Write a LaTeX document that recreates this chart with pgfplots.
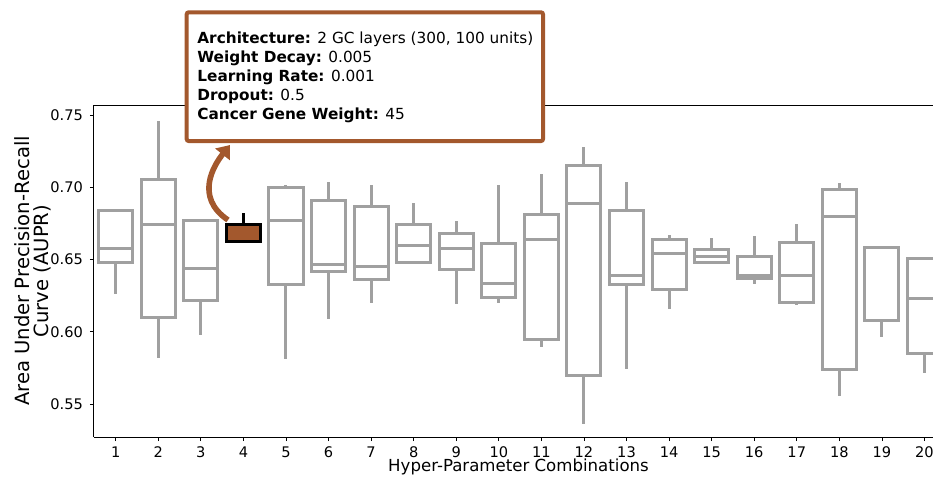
\documentclass[border=0pt]{standalone}
\usepackage{fontspec}
\setmainfont{DejaVu Sans}
\usepackage{pgfplots}
\pgfplotsset{compat=1.18}
\usepgfplotslibrary{statistics}
\usetikzlibrary{arrows.meta}

\definecolor{boxgray}{RGB}{160,160,160}
\definecolor{rust}{RGB}{163,88,45}

\pgfplotsset{
  gbox/.style={draw=boxgray, line width=1.5pt, solid, mark=none},
}
% position, lower whisker, lower quartile, median, upper quartile, upper whisker
\newcommand{\bx}[7][gbox]{%
  \addplot[#1, boxplot prepared={draw position=#2, lower whisker=#3,
    lower quartile=#4, median=#5, upper quartile=#6, upper whisker=#7}]
    coordinates {};}

\begin{document}
\begin{tikzpicture}
\useasboundingbox (-47pt,-21pt) rectangle (419.5pt,218.5pt);
\begin{axis}[
    at={(0,0)}, anchor=south west,
    scale only axis,
    width=419.5pt, height=166pt,
    xmin=0.49, xmax=20.2,
    ymin=0.5273, ymax=0.7569,
    axis x line=box, axis y line=left,
    axis line style={-, black, line width=0.5pt},
    xtick={1,...,20},
    ytick={0.55,0.6,0.65,0.7,0.75},
    xtick pos=left, xticklabel pos=left,
    tick align=outside,
    major tick length=2pt,
    tick style={black, line width=0.4pt},
    /pgf/number format/assume math mode=true,
    ticklabel style={font=\fontsize{7.3}{8}\selectfont},
    xticklabel style={yshift=0.6pt},
    yticklabel style={/pgf/number format/.cd, fixed, fixed zerofill, precision=2},
    xlabel={Hyper-Parameter Combinations},
    xlabel style={at={(axis description cs:0.506,-0.1054)}, anchor=base,
      font=\fontsize{8.3}{9}\selectfont},
    ylabel={Area Under Precision-Recall\\Curve (AUPR)},
    ylabel style={at={(axis description cs:-0.073,0.5)}, anchor=center,
      align=center, font=\fontsize{9.8}{9.8}\selectfont},
    boxplot/draw direction=y,
    boxplot/box extend=0.8,
    boxplot/whisker extend=0,
]
\bx{1}{0.626}{0.648}{0.658}{0.684}{0.684}
\bx{2}{0.582}{0.610}{0.674}{0.7055}{0.746}
\bx{3}{0.598}{0.622}{0.644}{0.677}{0.677}
\bx[draw=black, fill=rust, line width=1.5pt, solid, mark=none]{4}{0.6624}{0.6624}{0.674}{0.674}{0.682}
\bx{5}{0.581}{0.633}{0.677}{0.700}{0.7016}
\bx{6}{0.609}{0.6416}{0.6463}{0.691}{0.704}
\bx{7}{0.620}{0.636}{0.645}{0.6866}{0.7016}
\bx{8}{0.648}{0.648}{0.660}{0.6744}{0.689}
\bx{9}{0.619}{0.643}{0.6578}{0.668}{0.6767}
\bx{10}{0.620}{0.624}{0.6336}{0.6612}{0.7016}
\bx{11}{0.5898}{0.595}{0.664}{0.6813}{0.709}
\bx{12}{0.5363}{0.5695}{0.689}{0.715}{0.728}
\bx{13}{0.574}{0.633}{0.6393}{0.6836}{0.704}
\bx{14}{0.6158}{0.6295}{0.6544}{0.6636}{0.667}
\bx{15}{0.648}{0.648}{0.652}{0.6573}{0.665}
\bx{16}{0.633}{0.637}{0.639}{0.652}{0.666}
\bx{17}{0.6186}{0.6205}{0.6389}{0.6617}{0.6746}
\bx{18}{0.556}{0.5743}{0.680}{0.6986}{0.7028}
\bx{19}{0.5967}{0.6082}{0.6082}{0.6585}{0.6585}
\bx{20}{0.5718}{0.5852}{0.6232}{0.6509}{0.6509}
\end{axis}

% annotation
\draw[rust, line width=2.8pt, -{Triangle[length=6pt,width=9pt]}]
  (67pt,108.5pt) .. controls (50pt,120pt) and (60pt,136pt) .. (68pt,146pt);
\draw[rust, line width=2pt, fill=white, rounded corners=1pt]
  (46.35pt,148pt) rectangle (224.5pt,212.35pt);
\begin{scope}[every node/.style={anchor=base west, inner sep=0pt,
    font=\fontsize{7.65}{9}\selectfont}]
\node at (51.5pt,197pt) {\textbf{Architecture:} 2 GC layers (300, 100 units)};
\node at (51.5pt,187.5pt) {\textbf{Weight Decay:} 0.005};
\node at (51.5pt,178pt) {\textbf{Learning Rate:} 0.001};
\node at (51.5pt,168.5pt) {\textbf{Dropout:} 0.5};
\node at (51.5pt,159pt) {\textbf{Cancer Gene Weight:} 45};
\end{scope}
\end{tikzpicture}
\end{document}
